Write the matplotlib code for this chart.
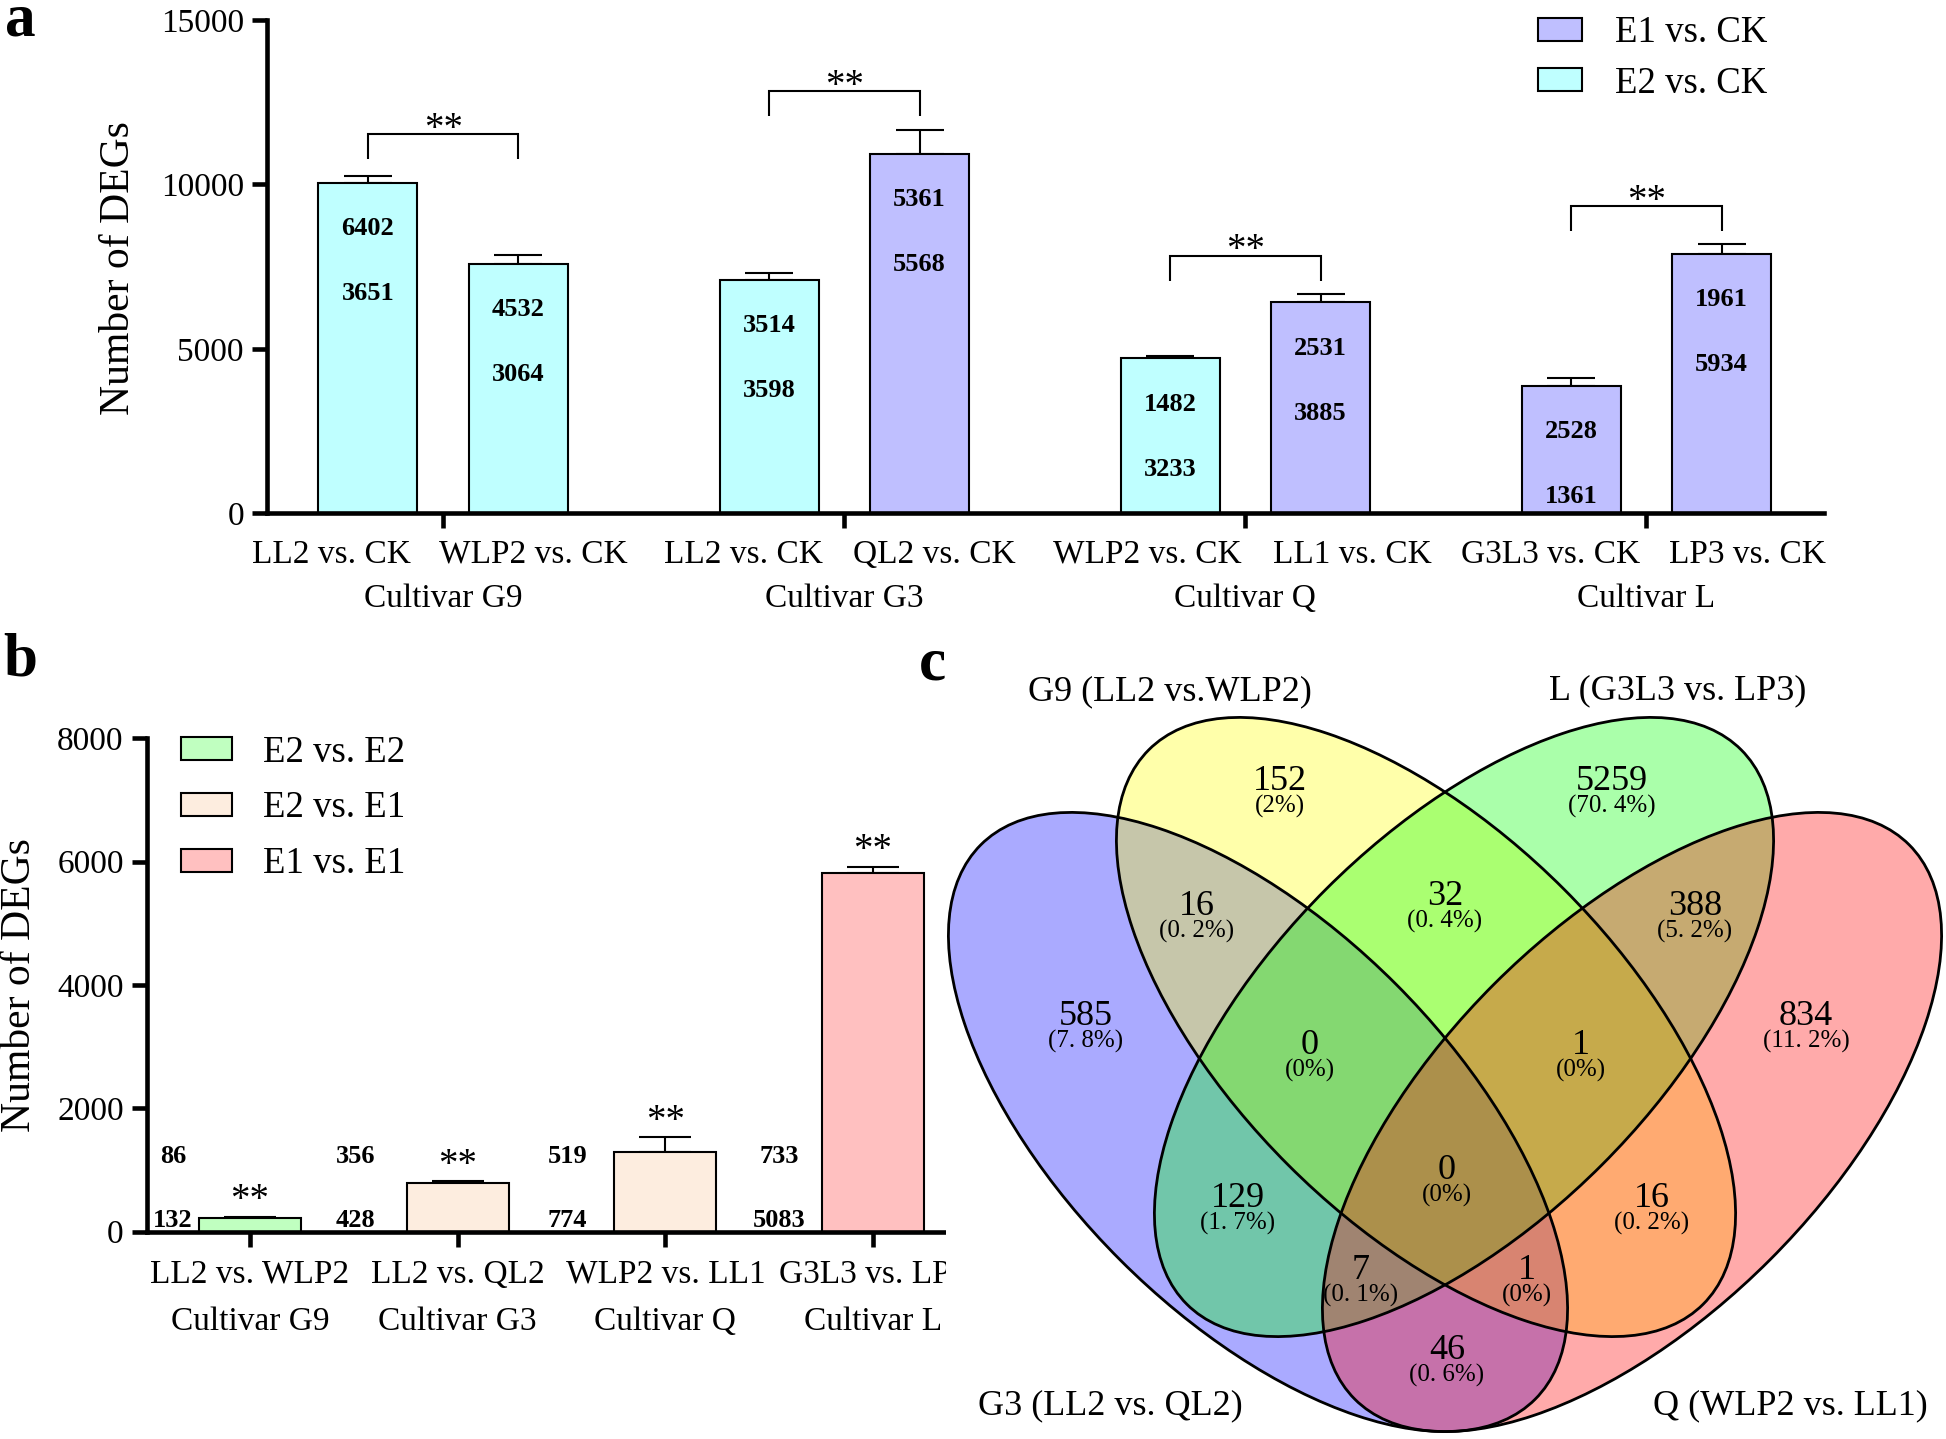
import matplotlib
matplotlib.use('Agg')
import matplotlib.pyplot as plt
from matplotlib.patches import Ellipse, Patch
import numpy as np

plt.rcParams['font.family'] = ['Liberation Serif', 'DejaVu Serif']

# ---------------- data ----------------
a_cultivars = ['Cultivar G9', 'Cultivar G3', 'Cultivar Q', 'Cultivar L']
a_labels = ['LL2 vs. CK', 'WLP2 vs. CK', 'LL2 vs. CK', 'QL2 vs. CK',
            'WLP2 vs. CK', 'LL1 vs. CK', 'G3L3 vs. CK', 'LP3 vs. CK']
a_series = ['E2 vs. CK', 'E2 vs. CK', 'E2 vs. CK', 'E1 vs. CK',
            'E2 vs. CK', 'E1 vs. CK', 'E1 vs. CK', 'E1 vs. CK']
a_upper = [6402, 4532, 3514, 5361, 1482, 2531, 2528, 1961]
a_lower = [3651, 3064, 3598, 5568, 3233, 3885, 1361, 5934]
a_totals = [10053, 7596, 7112, 10929, 4715, 6416, 3889, 7895]
a_err = [207, 270, 190, 740, 60, 250, 240, 288]
a_sig_pairs = [(0, 1), (2, 3), (4, 5), (6, 7)]
a_sig_y = [11535, 12840, 7841, 9356]

b_labels = ['LL2 vs. WLP2', 'LL2 vs. QL2', 'WLP2 vs. LL1', 'G3L3 vs. LP3']
b_cultivars = ['Cultivar G9', 'Cultivar G3', 'Cultivar Q', 'Cultivar L']
b_series = ['E2 vs. E2', 'E2 vs. E1', 'E2 vs. E1', 'E1 vs. E1']
b_upper = [86, 356, 519, 733]
b_lower = [132, 428, 774, 5083]
b_totals = [218, 784, 1293, 5816]
b_err = [28, 30, 240, 100]

venn_sets = ['G9 (LL2 vs.WLP2)', 'L (G3L3 vs. LP3)', 'G3 (LL2 vs. QL2)', 'Q (WLP2 vs. LL1)']
venn_counts = [152, 5259, 585, 16, 32, 388, 834, 0, 1, 129, 0, 16, 7, 1, 46]
venn_pcts = ['(2%)', '(70. 4%)', '(7. 8%)', '(0. 2%)', '(0. 4%)', '(5. 2%)', '(11. 2%)',
             '(0%)', '(0%)', '(1. 7%)', '(0%)', '(0. 2%)', '(0. 1%)', '(0%)', '(0. 6%)']

# ---------------- style / layout ----------------
a_colors = {'E1 vs. CK': '#BFBFFF', 'E2 vs. CK': '#BFFFFF'}
b_colors = {'E2 vs. E2': '#C0FFC0', 'E2 vs. E1': '#FDEDDF', 'E1 vs. E1': '#FFC0C0'}

W, H = 1946, 1439
DPI = 100
fig = plt.figure(figsize=(W / DPI, H / DPI), dpi=DPI)
fig.patch.set_facecolor('white')


def fx(px):
    return px / W


def fy(py):
    return 1 - py / H


SPINE_LW = 3.3
TICK_FS = 24


def ctext(ax, x, y, s, fs, weight='normal', k=0.34, **kw):
    ax.annotate(s, xy=(x, y), xytext=(0, -k * fs), textcoords='offset points',
                ha='center', va='baseline', fontsize=fs, fontweight=weight,
                annotation_clip=False, **kw)


def style_axes(ax):
    for s in ['top', 'right']:
        ax.spines[s].set_visible(False)
    for s in ['left', 'bottom']:
        ax.spines[s].set_linewidth(SPINE_LW)
    ax.tick_params(axis='y', length=10.8, width=SPINE_LW, labelsize=TICK_FS, pad=5.8)
    ax.tick_params(axis='x', length=10.8, width=SPINE_LW, labelbottom=False)


# ---------------- panel a ----------------
ax_a = fig.add_axes([fx(267), fy(513.5), fx(1824) - fx(267), fy(20) - fy(513.5)])
gsp = 2.665
a_pos = np.array([g * gsp + k for g in range(4) for k in range(2)])
ax_a.errorbar(a_pos, a_totals, yerr=[np.zeros(len(a_err)), a_err], fmt='none',
              ecolor='black', elinewidth=1.5, capsize=17.6, capthick=1.5, zorder=1)
ax_a.bar(a_pos, a_totals, width=0.658, color=[a_colors[s] for s in a_series],
         edgecolor='black', linewidth=1.5, zorder=2)
ax_a.set_xlim(-0.671, 9.675)
ax_a.set_ylim(0, 15000)
ax_a.set_yticks([0, 5000, 10000, 15000])
ax_a.set_xticks([g * gsp + 0.5 for g in range(4)])
style_axes(ax_a)

for x, t, u, l in zip(a_pos, a_totals, a_upper, a_lower):
    ctext(ax_a, x, t - 1320, str(u), 19, weight='bold')
    ctext(ax_a, x, t - 3290, str(l), 19, weight='bold')

for (i, j), y in zip(a_sig_pairs, a_sig_y):
    x0, x1 = a_pos[i], a_pos[j]
    ax_a.plot([x0, x0, x1, x1], [y - 760, y, y, y - 760], color='black', lw=1.5,
              solid_capstyle='butt', solid_joinstyle='miter')
    ctext(ax_a, (x0 + x1) / 2, y + 440, '**', 28, k=0.5)

a_label_dx = [-0.24, 0.10, -0.17, 0.10, -0.15, 0.21, -0.14, 0.17]
for x, dx, s in zip(a_pos, a_label_dx, a_labels):
    ax_a.annotate(s, xy=(x + dx, 0), xycoords=('data', 'axes fraction'), xytext=(0, -35.6),
                  textcoords='offset points', ha='center', va='baseline', fontsize=TICK_FS,
                  annotation_clip=False)
for g, s in enumerate(a_cultivars):
    ax_a.annotate(s, xy=(g * gsp + 0.5, 0), xycoords=('data', 'axes fraction'),
                  xytext=(0, -67.3), textcoords='offset points', ha='center',
                  va='baseline', fontsize=TICK_FS, annotation_clip=False)

a_handles = [Patch(facecolor=a_colors[k], edgecolor='black', linewidth=1.5)
             for k in ['E1 vs. CK', 'E2 vs. CK']]
ax_a.legend(a_handles, ['E1 vs. CK', 'E2 vs. CK'], loc='upper left',
            bbox_to_anchor=(fx(1538), fy(16)), bbox_transform=fig.transFigure,
            frameon=False, fontsize=26.5, borderpad=0, borderaxespad=0,
            handlelength=1.2, handleheight=0.57, handletextpad=0.9, labelspacing=0.43)

fig.text(fx(119), fy(268), 'Number of DEGs', rotation=90, ha='center', va='center',
         fontsize=30)

# ---------------- panel b ----------------
ax_b = fig.add_axes([fx(146.7), fy(1231.7), fx(946) - fx(146.7), fy(738.3) - fy(1231.7)])
b_pos = np.arange(len(b_totals))
ax_b.errorbar(b_pos, b_totals, yerr=[np.zeros(len(b_err)), b_err], fmt='none',
              ecolor='black', elinewidth=1.5, capsize=18.7, capthick=1.5, zorder=1)
ax_b.bar(b_pos, b_totals, width=0.49, color=[b_colors[s] for s in b_series],
         edgecolor='black', linewidth=1.5, zorder=2)
ax_b.set_xlim(-0.497, 3.351)
ax_b.set_ylim(0, 8000)
ax_b.set_yticks(np.arange(0, 8001, 2000))
ax_b.set_xticks(b_pos)
style_axes(ax_b)

b_label_dx = [-0.37, -0.49, -0.47, -0.45]
for x, dx, t, e, u, l in zip(b_pos, b_label_dx, b_totals, b_err, b_upper, b_lower):
    ctext(ax_b, x + dx, 1265, str(u), 19, weight='bold')
    ctext(ax_b, x + dx, 225, str(l), 19, weight='bold')
    ctext(ax_b, x, t + e + 420, '**', 28, k=0.5)

for x, s in zip(b_pos, b_labels):
    ax_b.annotate(s, xy=(x, 0), xycoords=('data', 'axes fraction'), xytext=(0, -36.9),
                  textcoords='offset points', ha='center', va='baseline', fontsize=TICK_FS,
                  annotation_clip=False)
for x, s in zip(b_pos, b_cultivars):
    ax_b.annotate(s, xy=(x, 0), xycoords=('data', 'axes fraction'), xytext=(0, -70.8),
                  textcoords='offset points', ha='center', va='baseline', fontsize=TICK_FS,
                  annotation_clip=False)

b_keys = ['E2 vs. E2', 'E2 vs. E1', 'E1 vs. E1']
b_handles = [Patch(facecolor=b_colors[k], edgecolor='black', linewidth=1.5) for k in b_keys]
ax_b.legend(b_handles, b_keys, loc='upper left',
            bbox_to_anchor=(fx(181), fy(735)), bbox_transform=fig.transFigure,
            frameon=False, fontsize=26.5, borderpad=0, borderaxespad=0,
            handlelength=1.39, handleheight=0.57, handletextpad=0.84, labelspacing=0.58)

fig.text(fx(19.5), fy(985), 'Number of DEGs', rotation=90, ha='center', va='center',
         fontsize=30)

# ---------------- panel c (Venn) ----------------
ax_c = fig.add_axes([fx(946), 0, 1 - fx(946), fy(640)])
ax_c.set_zorder(2)
ax_c.set_xlim(946, 1946)
ax_c.set_ylim(1439, 640)
ax_c.set_xticks([])
ax_c.set_yticks([])
for s in ax_c.spines.values():
    s.set_visible(False)
ax_c.patch.set_facecolor('white')

# ellipse geometry (pixel space): G3 (blue), G9 (yellow), L (green), Q (red)
ell_centers = [(1258, 1122), (1426, 1027), (1464, 1027), (1632, 1122)]
ell_angles = [45, 45, -45, -45]
ell_colors = ['#0000FF', '#FFFF00', '#00FF00', '#FF0000']
EA, EB = 392, 195
for c, ang, col in zip(ell_centers, ell_angles, ell_colors):
    ax_c.add_patch(Ellipse(c, 2 * EA, 2 * EB, angle=ang, facecolor=col, alpha=1 / 3,
                           edgecolor='none'))
for c, ang in zip(ell_centers, ell_angles):
    ax_c.add_patch(Ellipse(c, 2 * EA, 2 * EB, angle=ang, facecolor='none',
                           edgecolor='black', linewidth=2.0))

region_xy = [(1280, 778), (1612, 778), (1086, 1013), (1197, 903), (1445, 893),
             (1695, 903), (1806, 1013), (1310, 1042), (1581, 1042), (1238, 1195),
             (1447, 1167), (1652, 1195), (1361, 1267), (1527, 1267), (1447, 1347)]
for (x, y), n, p in zip(region_xy, venn_counts, venn_pcts):
    ctext(ax_c, x, y, str(n), 26)
    ctext(ax_c, x, y + 27, p, 18, k=0.3)

set_xy = [(1170, 688), (1678, 687), (1110, 1402), (1790, 1402)]
for (x, y), s in zip(set_xy, venn_sets):
    ctext(ax_c, x, y, s, 26)

# ---------------- panel letters ----------------
fig.text(fx(20), fy(35), 'a', fontsize=44, fontweight='bold', ha='center', va='baseline', zorder=5)
fig.text(fx(20), fy(676), 'b', fontsize=44, fontweight='bold', ha='center', va='baseline', zorder=5)
fig.text(fx(932), fy(679), 'c', fontsize=44, fontweight='bold', ha='center', va='baseline', zorder=5)

fig.savefig('out.png', dpi=DPI, facecolor='white')
